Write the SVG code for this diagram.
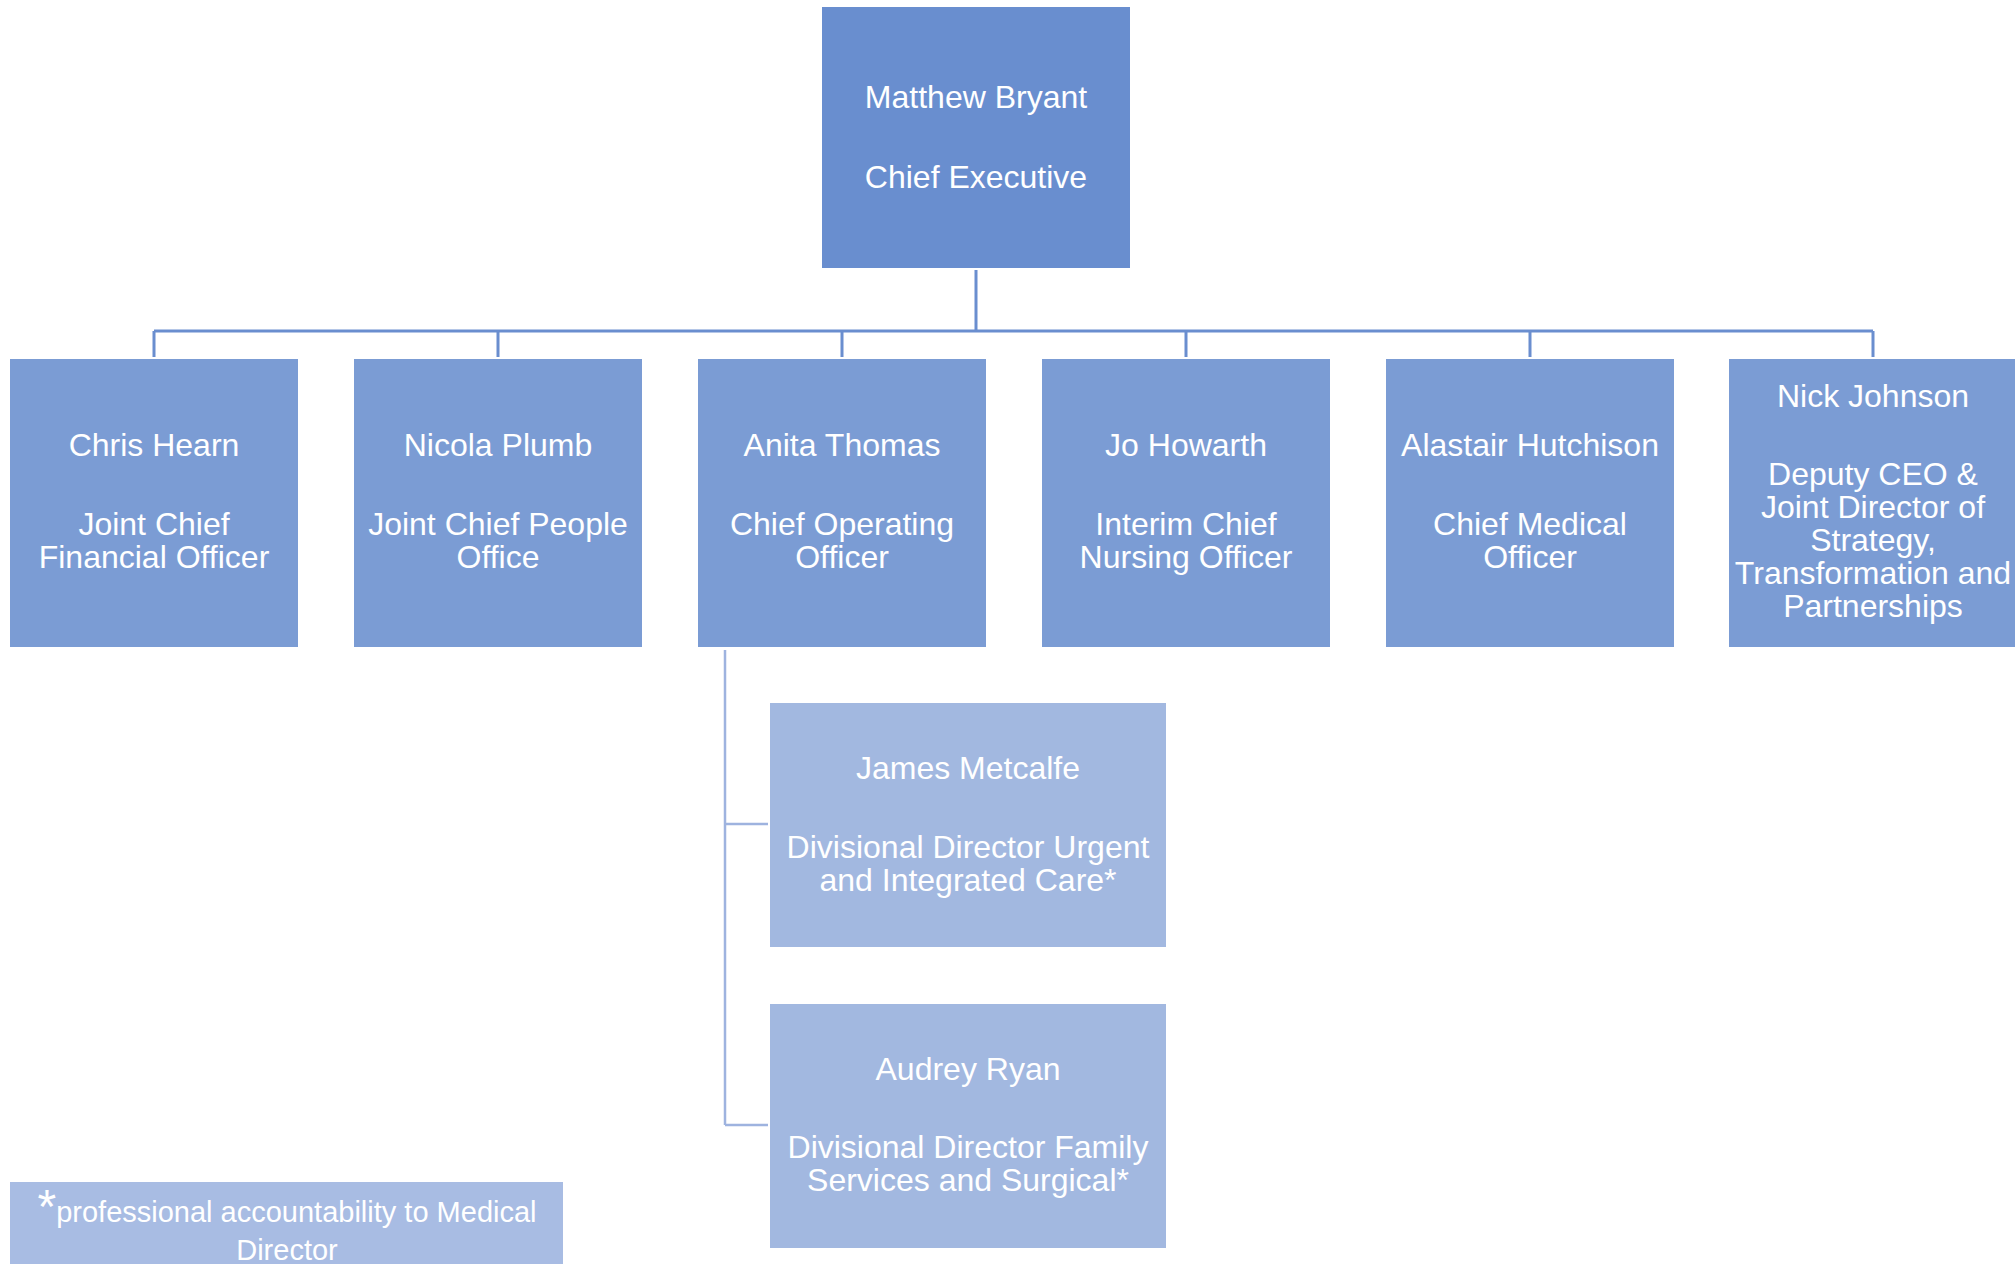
<svg xmlns="http://www.w3.org/2000/svg" width="2015" height="1264" viewBox="0 0 2015 1264">
<style>
text{font-family:"Liberation Sans",Arial,sans-serif;font-size:32px;fill:#fff;text-anchor:middle}
.top{fill:#698ECF}
.mid{fill:#7B9CD4}
.sub{fill:#A2B8E0}
.foot{fill:#A8BCE3}
.ln{stroke:#6A8ECF;stroke-width:3;fill:none}
.lns{stroke:#9EB3DF;stroke-width:2.5;fill:none}
.ft{font-size:29px}
</style>
<rect width="2015" height="1264" fill="#fff"/>
<g id="connectors">
<path class="ln" d="M976 270V331M154 331H1873M154 331V357M498 331V357M842 331V357M1186 331V357M1530 331V357M1873 331V357"/>
<path class="lns" d="M725 650V1125M725 824H768M725 1125H768"/>
</g>
<g id="matthew-bryant">
<rect class="top" x="822" y="7" width="308" height="261"/>
<text x="976" y="108">Matthew Bryant</text>
<text x="976" y="188">Chief Executive</text>
</g>
<g id="chris-hearn">
<rect class="mid" x="10" y="359" width="288" height="288"/>
<text x="154" y="456">Chris Hearn</text>
<text x="154" y="535">Joint Chief</text>
<text x="154" y="568">Financial Officer</text>
</g>
<g id="nicola-plumb">
<rect class="mid" x="354" y="359" width="288" height="288"/>
<text x="498" y="456">Nicola Plumb</text>
<text x="498" y="535">Joint Chief People</text>
<text x="498" y="568">Office</text>
</g>
<g id="anita-thomas">
<rect class="mid" x="698" y="359" width="288" height="288"/>
<text x="842" y="456">Anita Thomas</text>
<text x="842" y="535">Chief Operating</text>
<text x="842" y="568">Officer</text>
</g>
<g id="jo-howarth">
<rect class="mid" x="1042" y="359" width="288" height="288"/>
<text x="1186" y="456">Jo Howarth</text>
<text x="1186" y="535">Interim Chief</text>
<text x="1186" y="568">Nursing Officer</text>
</g>
<g id="alastair-hutchison">
<rect class="mid" x="1386" y="359" width="288" height="288"/>
<text x="1530" y="456">Alastair Hutchison</text>
<text x="1530" y="535">Chief Medical</text>
<text x="1530" y="568">Officer</text>
</g>
<g id="nick-johnson">
<rect class="mid" x="1729" y="359" width="288" height="288"/>
<text x="1873" y="407">Nick Johnson</text>
<text x="1873" y="485">Deputy CEO &amp;</text>
<text x="1873" y="518">Joint Director of</text>
<text x="1873" y="551">Strategy,</text>
<text x="1873" y="584">Transformation and</text>
<text x="1873" y="617">Partnerships</text>
</g>
<g id="james-metcalfe">
<rect class="sub" x="770" y="703" width="396" height="244"/>
<text x="968" y="779">James Metcalfe</text>
<text x="968" y="858">Divisional Director Urgent</text>
<text x="968" y="891">and Integrated Care*</text>
</g>
<g id="audrey-ryan">
<rect class="sub" x="770" y="1004" width="396" height="244"/>
<text x="968" y="1080">Audrey Ryan</text>
<text x="968" y="1158">Divisional Director Family</text>
<text x="968" y="1191">Services and Surgical*</text>
</g>
<g id="footnote">
<rect class="foot" x="10" y="1182" width="553" height="90"/>
<text class="ft" x="287" y="1222"><tspan font-size="48" dy="1">*</tspan><tspan dy="-1">professional accountability to Medical</tspan></text>
<text class="ft" x="287" y="1260">Director</text>
</g>
</svg>
